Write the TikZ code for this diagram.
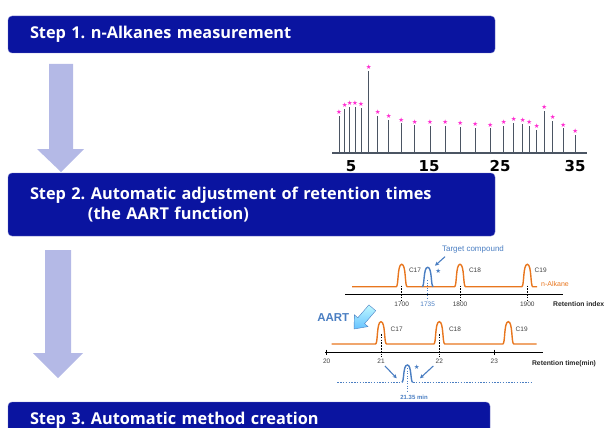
\documentclass[tikz,border=0pt]{standalone}
\usepackage{fontspec}
\setmainfont{Liberation Sans}
\newfontfamily\stepfont{Open Sans}
\newfontfamily\numfont{DejaVu Sans}
\usetikzlibrary{arrows.meta}
\definecolor{stepblue}{HTML}{0A14A0}
\definecolor{flowarrow}{HTML}{B4B9E6}
\definecolor{alkane}{HTML}{E8761E}
\definecolor{target}{HTML}{4A7EC2}
\definecolor{peakgray}{HTML}{4B5563}
\definecolor{starpink}{HTML}{FF2BD0}
\frenchspacing
\begin{document}
\begin{tikzpicture}[x=1pt, y=-1pt,
    stepbox/.style={rectangle, fill=stepblue, draw=stepblue!60, rounded corners=4pt, text=white, align=left, inner xsep=22pt, inner ysep=0pt, font=\stepfont\bfseries\fontsize{16.3}{20}\selectfont},
    flow/.style={fill=flowarrow, draw=none},
    alk/.style={draw=alkane, line width=1.4pt},
    axis/.style={draw=black, line width=1.3pt},
    guide/.style={draw=black, line width=0.9pt, dash pattern=on 1.6pt off 1.2pt},
    small/.style={font=\fontsize{6.5}{7}\selectfont, text=black!75, inner sep=0pt},
    caption/.style={font=\bfseries\fontsize{6.8}{8}\selectfont, text=black!85, inner sep=0pt},
    star/.style={font=\numfont\fontsize{6.5}{6.5}\selectfont, inner sep=0pt},
    hint/.style={draw=target, line width=1.1pt, -{Stealth[length=4pt, width=4pt]}}]
\useasboundingbox (0,0) rectangle (610,428);
\clip (0,0) rectangle (610,428);
% step boxes
\node [stepbox, minimum width=487pt, minimum height=37pt, text width=443pt] (step1) at (251.5,34.5) {Step 1. n-Alkanes measurement};
\node [stepbox, minimum width=487pt, minimum height=63pt, text width=443pt] (step2) at (251.5,204.5) {Step 2. Automatic adjustment of retention times\\\hspace*{58pt}(the AART function)};
\node [stepbox, minimum width=482pt, minimum height=37pt, text width=438pt] (step3) at (249,420.5) {Step 3. Automatic method creation};
% flow arrows
\path [flow] (49,64) -- (73,64) -- (73,149) -- (84,149) -- (61,172) -- (37,149) -- (49,149) -- cycle;
\path [flow] (45,250) -- (71,250) -- (71,353) -- (83,353) -- (58,378) -- (33,353) -- (45,353) -- cycle;
% chromatogram
\draw [peakgray, line width=1.1pt] (332,153) -- (587,153);
\foreach \x/\y [count=\i] in {339/116, 344.7/109, 349.7/106.7, 355/106.7, 361/107.7, 368.7/71, 377.7/116, 388.7/120, 401.3/123.3, 414.7/125.3, 430/126, 445.3/126, 460.3/126.7, 475.3/127.7, 490.3/128.3, 503.7/125.7, 513.7/122.7, 522.7/124, 529.3/126, 536.7/130, 544.3/111, 552.7/120.7, 563.3/128.3, 575.3/135} {
    \draw [peakgray, line width=1pt] (\x,153) -- (\x,\y);
    \node [star, text=starpink] (s\i) at (\x,\y-3.6) {★};
}
\foreach \x/\t in {351/5, 429/15, 500/25, 575/35}
    \node [font=\numfont\bfseries\fontsize{15}{15}\selectfont, inner sep=0pt] (n\t) at (\x,166) {\t};
% retention index
\draw [alk] (352,286.7) foreach \p in {401.7,460,527.3} { -- (\p-5.5,286.7) .. controls (\p-3,286.7) and (\p-4.5,264.3) .. (\p,264.3) .. controls (\p+4.5,264.3) and (\p+3,286.7) .. (\p+5.5,286.7) } -- (537,286.7);
\draw [draw=target, line width=1.4pt] (422.2,286.7) .. controls (424.7,286.7) and (423.2,267.3) .. (427.7,267.3) .. controls (432.2,267.3) and (430.7,286.7) .. (433.2,286.7);
\draw [axis] (345,294.3) -- (563,294.3);
\foreach \p in {401.7,460,527.3}
    \draw [guide] (\p,285.5) -- (\p,300);
\draw [draw=target, line width=0.8pt, dash pattern=on 1.4pt off 1.1pt] (427.7,280) -- (427.7,300);
\node [small] (c17a) at (415,270.7) {C17};
\node [small] (c18a) at (475,270.7) {C18};
\node [small] (c19a) at (540.7,270.7) {C19};
\node [small, text=alkane, anchor=west, font=\fontsize{7}{8}\selectfont] (alkane) at (541,284) {n-Alkane};
\node [small] (i1700) at (401.7,304) {1700};
\node [small, text=target] (i1735) at (427.7,304) {1735};
\node [small] (i1800) at (460,304) {1800};
\node [small] (i1900) at (527.3,304) {1900};
\node [caption, anchor=west] (rindex) at (553,304) {Retention index};
\node [small, text=target, font=\fontsize{8}{9}\selectfont] (tgt) at (473,249.3) {Target compound};
\node [star, text=target] (tstar) at (438.3,271) {★};
\coordinate (tgtend) at (435,265.7);
\path [hint] (445,256.7) -- (tgtend);
% AART
\shade [top color=blue!10!cyan!25, bottom color=blue!40!cyan!60, draw=target] (354,329) -- (368.0,326.6) -- (364.6,323.6) -- (375.7,310.7) -- (368.9,304.9) -- (357.8,317.8) -- (354.4,314.8) -- cycle;
\node [text=target, font=\bfseries\fontsize{11.5}{12}\selectfont, inner sep=0pt] (aart) at (333.3,317.3) {AART};
% retention time
\draw [alk] (331.7,344) foreach \p in {381,439.3,508.3} { -- (\p-5.5,344) .. controls (\p-3,344) and (\p-4.5,321.7) .. (\p,321.7) .. controls (\p+4.5,321.7) and (\p+3,344) .. (\p+5.5,344) } -- (536.7,344);
\draw [axis] (325,352.3) -- (542.7,352.3);
\draw [draw=black, line width=0.9pt] (326.7,349.5) -- (326.7,355) (494.3,349.5) -- (494.3,355);
\foreach \p in {381,439.3}
    \draw [guide] (\p,334) -- (\p,357);
\node [small] (c17b) at (396.7,329.3) {C17};
\node [small] (c18b) at (455,329.3) {C18};
\node [small] (c19b) at (521.7,329.3) {C19};
\node [small] (t20) at (326.7,361.7) {20};
\node [small] (t21) at (381,361.7) {21};
\node [small] (t22) at (439.3,361.7) {22};
\node [small] (t23) at (494.3,361.7) {23};
\node [caption] (rtime) at (564,363.3) {Retention time(min)};
% adjusted target
\draw [target, line width=1.2pt, dash pattern=on 1.5pt off 1.3pt] (337.3,382.3) -- (401.5,382.3);
\draw [target, line width=1.2pt, dash pattern=on 1.5pt off 1.3pt] (413.1,382.3) -- (533.3,382.3);
\draw [draw=target, line width=1.4pt] (401.8,382.3) .. controls (404.3,382.3) and (402.8,365) .. (407.3,365) .. controls (411.8,365) and (410.3,382.3) .. (412.8,382.3);
\draw [draw=target, line width=0.8pt, dash pattern=on 1.4pt off 1.1pt] (407.3,368) -- (407.3,390.7);
\node [star, text=target] (bstar) at (416.7,366.7) {★};
\node [small, text=target, font=\bfseries\fontsize{6}{7}\selectfont] (rt) at (414,397.7) {21.35 min};
\coordinate (leftend) at (396.7,378.3);
\coordinate (rightend) at (420,378.3);
\path [hint] (385,366) -- (leftend);
\path [hint] (433.3,366) -- (rightend);
\end{tikzpicture}
\end{document}
